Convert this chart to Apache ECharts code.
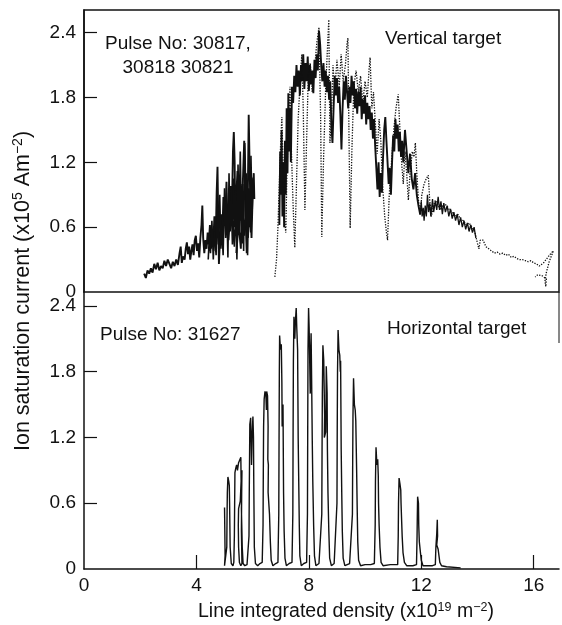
<!DOCTYPE html>
<html>
<head>
<meta charset="utf-8">
<script src="https://cdn.jsdelivr.net/npm/echarts@6/dist/echarts.min.js"></script>
<style>
  html, body { margin: 0; padding: 0; background: #fff; }
  #chart { width: 562px; height: 625px; }
</style>
</head>
<body>
<div id="chart"></div>
<script>
// Axis ticks (line integrated density, ion saturation current)
const xTickValues = [0, 4, 8, 12, 16];
const yTickValues = [0, 0.6, 1.2, 1.8, 2.4];

// Vertical target, pulse 30817 (solid trace, low density)
const pulse30817 = [
  [2.14,0.17],[2.2,0.13],[2.26,0.2],[2.32,0.17],[2.38,0.22],[2.44,0.18],[2.5,0.26],[2.56,0.21],
  [2.62,0.27],[2.68,0.2],[2.74,0.24],[2.8,0.22],[2.86,0.29],[2.92,0.24],[2.98,0.3],[3.04,0.26],
  [3.1,0.22],[3.16,0.28],[3.22,0.24],[3.28,0.3],[3.34,0.25],[3.4,0.36],[3.44,0.42],[3.48,0.27],
  [3.52,0.33],[3.58,0.3],[3.62,0.4],[3.66,0.46],[3.7,0.35],[3.74,0.42],[3.78,0.3],[3.82,0.38],
  [3.86,0.44],[3.9,0.34],[3.94,0.48],[3.98,0.52],[4.02,0.38],[4.06,0.45],[4.1,0.32],[4.14,0.5],
  [4.18,0.62],[4.21,0.8],[4.24,0.5],[4.28,0.36],[4.32,0.48],[4.36,0.4],[4.4,0.55],[4.44,0.44],
  [4.48,0.62],[4.52,0.4],[4.56,0.58],[4.6,0.46],[4.64,0.7],[4.68,0.38],[4.72,0.92],[4.75,1.16],
  [4.78,0.6],[4.8,0.26],[4.84,0.5],[4.88,0.72],[4.92,0.52],[4.96,0.88],[5.0,0.62],[5.04,0.8],
  [5.07,1.02],[5.1,0.7],[5.14,0.48],[5.18,0.64],[5.22,0.98],[5.26,0.72],[5.3,1.3],[5.33,1.48],
  [5.36,1.2],[5.38,0.68],[5.42,0.9],[5.46,1.12],[5.5,0.78],[5.46,0.5],[5.42,0.36],[5.48,0.62],
  [5.54,0.52],[5.58,0.4],[5.62,0.8],[5.66,1.08],[5.7,1.4],[5.73,1.2],[5.76,0.6],[5.79,0.36],
  [5.82,0.7],[5.86,1.64],[5.89,1.2],[5.92,0.8],[5.96,0.5],[6.0,0.9],[6.04,1.1],[6.06,0.86]
];

// Vertical target, pulse 30818 (solid trace overlapping the same range)
const pulse30818 = [
  [4.42,0.3],[4.46,0.52],[4.5,0.36],[4.55,0.66],[4.6,0.3],[4.64,0.56],[4.7,0.34],[4.74,0.78],
  [4.78,0.44],[4.83,0.9],[4.87,0.4],[4.9,0.62],[4.95,0.34],[5.0,0.96],[5.04,0.5],[5.08,0.78],
  [5.12,0.32],[5.16,1.1],[5.2,0.56],[5.24,0.86],[5.28,0.44],[5.32,1.05],[5.36,0.6],[5.4,0.94],
  [5.44,0.3],[5.48,1.18],[5.52,0.7],[5.56,1.3],[5.6,0.66],[5.64,1.0],[5.68,0.38],[5.72,1.38],
  [5.75,0.9],[5.78,1.1],[5.82,0.34],[5.86,0.96],[5.9,0.6],[5.94,1.26],[5.98,0.72],[6.02,1.06],
  [5.97,0.9],[5.93,0.55],[5.88,0.8],[5.84,0.5],[5.8,0.95],[5.76,0.7],[5.71,0.52],[5.67,0.85],
  [5.63,0.45],[5.58,0.9],[5.53,0.55],[5.49,0.75],[5.45,0.5],[5.4,0.7],[5.35,0.42],[5.3,0.66]
];

// Vertical target, pulse 30821 (dotted trace, high density)
const pulse30821 = [
  [6.79,0.14],[6.85,0.3],[6.9,0.6],[6.95,1.0],[7.0,1.4],[7.04,1.62],[7.08,1.2],[7.12,0.7],
  [7.18,0.55],[7.22,1.1],[7.28,1.6],[7.33,1.9],[7.38,1.3],[7.44,0.8],[7.5,0.41],[7.56,1.0],
  [7.62,1.6],[7.7,2.0],[7.75,2.2],[7.8,1.7],[7.86,0.76],[7.92,1.4],[7.98,2.0],[8.05,2.12],
  [8.12,1.85],[8.2,2.05],[8.28,2.3],[8.36,2.45],[8.42,1.6],[8.46,0.51],[8.52,1.2],[8.6,1.9],
  [8.67,2.3],[8.71,2.52],[8.75,1.38],[8.8,1.6],[8.86,2.1],[8.92,1.85],[9.0,2.15],[9.08,1.9],
  [9.15,2.2],[9.22,1.95],[9.3,2.1],[9.36,2.3],[9.39,2.35],[9.43,1.4],[9.47,0.59],[9.53,1.3],
  [9.6,1.9],[9.68,2.05],[9.76,1.85],[9.84,2.0],[9.92,1.75],[10.0,1.95],[10.08,1.8],[10.14,2.05],
  [10.18,2.17],[10.24,1.7],[10.3,1.85],[10.38,1.5],[10.43,1.28],[10.5,1.6],[10.56,1.4],[10.62,1.0],
  [10.7,0.7],[10.76,0.55],[10.8,0.48],[10.86,0.9],[10.94,1.2],[11.02,1.5],[11.1,1.7],[11.18,1.83],
  [11.24,1.5],[11.3,1.2],[11.36,1.0],[11.42,1.3],[11.48,1.1],[11.54,0.85],[11.6,1.1],[11.68,1.3],
  [11.74,1.25],[11.79,1.38],[11.84,1.1],[11.9,0.85],[11.96,0.71],[12.02,0.9],[12.1,1.0],[12.18,1.05],
  [12.25,1.08],[12.3,0.85],[12.36,0.7],[12.42,0.78],[12.5,0.85],[12.6,0.8],[12.7,0.76],[12.8,0.82],
  [12.9,0.8],[13.0,0.76],[13.1,0.74],[13.2,0.7],[13.3,0.72],[13.4,0.67],[13.5,0.66],[13.6,0.62],
  [13.7,0.64],[13.8,0.6],[13.9,0.56],[14.0,0.45],[14.05,0.4],[14.1,0.48],[14.2,0.48],[14.3,0.42],
  [14.4,0.4],[14.5,0.38],[14.6,0.36],[14.7,0.37],[14.8,0.35],[14.9,0.36],[15.0,0.34],[15.1,0.35],
  [15.2,0.32],[15.3,0.33],[15.4,0.31],[15.5,0.3],[15.6,0.3],[15.7,0.29],[15.8,0.28],[15.9,0.29],
  [16.0,0.27],[16.1,0.26],[16.2,0.24],[16.25,0.23],[16.35,0.27],[16.5,0.32],[16.62,0.36],[16.7,0.38],
  [16.55,0.28],[16.45,0.18],[16.4,0.1],[16.43,0.05],[16.5,0.06],[16.45,0.12],[16.3,0.15],[16.15,0.16],[16.05,0.14]
];

// Vertical target, dense solid band of the high density phase
const pulseBand = [
  [6.95,0.62],[6.98,1.3],[7.0,0.9],[7.03,1.5],[7.06,0.7],[7.09,1.2],[7.12,0.6],[7.15,1.4],
  [7.18,0.9],[7.21,1.7],[7.24,1.1],[7.27,1.84],[7.3,1.3],[7.33,1.7],[7.36,1.2],[7.4,1.9],
  [7.44,1.75],[7.48,2.0],[7.52,1.85],[7.56,2.1],[7.6,1.9],[7.64,2.05],[7.68,1.82],[7.72,2.1],
  [7.76,1.95],[7.8,2.2],[7.84,1.88],[7.88,2.12],[7.92,1.95],[7.96,2.18],[8.0,1.86],[8.04,2.1],
  [8.08,1.92],[8.12,2.05],[8.16,1.84],[8.2,2.15],[8.24,1.98],[8.28,2.2],[8.32,2.05],[8.36,2.42],
  [8.4,2.3],[8.44,2.1],[8.48,1.95],[8.52,2.12],[8.56,1.9],[8.6,2.05],[8.64,1.85],[8.68,2.0],
  [8.72,1.78],[8.76,1.95],[8.8,1.55],[8.84,1.38],[8.88,1.7],[8.92,2.0],[8.96,1.82],[9.0,1.98],
  [9.04,1.75],[9.08,1.9],[9.12,1.65],[9.16,1.32],[9.2,1.7],[9.24,1.95],[9.28,1.78],[9.32,2.0],
  [9.36,1.85],[9.4,1.7],[9.44,1.9],[9.48,1.75],[9.52,2.0],[9.56,1.82],[9.6,1.95],[9.64,1.7],
  [9.68,1.88],[9.72,1.65],[9.76,1.85],[9.8,1.72],[9.84,1.9],[9.88,1.6],[9.92,1.78],[9.96,1.65],
  [10.0,1.82],[10.04,1.55],[10.08,1.75],[10.12,1.6],[10.16,1.72],[10.2,1.5],[10.24,1.66],[10.28,1.42],
  [10.32,1.6],[10.36,1.35],[10.4,1.15],[10.44,0.95],[10.48,1.2],[10.52,0.88],[10.56,1.1],[10.6,0.92],
  [10.64,1.25],[10.68,1.5],[10.72,1.62],[10.76,1.4],[10.8,1.2],[10.84,1.0],[10.88,1.15],[10.92,0.9],
  [10.96,1.2],[11.0,1.45],[11.04,1.3],[11.08,1.6],[11.12,1.42],[11.16,1.55],[11.2,1.3],[11.24,1.48],
  [11.28,1.25],[11.32,1.4],[11.36,1.2],[11.42,1.5],[11.48,1.3],[11.54,1.1],[11.6,1.28],[11.66,1.05],
  [11.72,0.95],[11.78,1.1],[11.84,0.9],[11.9,0.8],[11.96,0.72]
];

// Vertical target, noisy decay after the band (solid, thinner)
const pulseDecay = [
  [11.96,0.72],[12.0,0.84],[12.03,0.7],[12.07,0.78],[12.1,0.66],[12.14,0.8],[12.18,0.7],[12.22,0.9],
  [12.26,0.74],[12.3,0.82],[12.34,0.7],[12.4,0.86],[12.44,0.74],[12.5,0.84],[12.55,0.76],[12.6,0.88],
  [12.65,0.76],[12.7,0.84],[12.75,0.72],[12.8,0.82],[12.86,0.74],[12.92,0.8],[12.98,0.7],[13.04,0.77],
  [13.1,0.68],[13.16,0.74],[13.22,0.66],[13.28,0.72],[13.34,0.62],[13.4,0.69],[13.46,0.6],[13.52,0.66],
  [13.58,0.58],[13.64,0.64],[13.7,0.56],[13.76,0.62],[13.82,0.55],[13.88,0.6],[13.94,0.5]
];

// Horizontal target, pulse 31627 (density steps with current bursts)
const pulse31627 = [
  [5.0,0.56],[5.01,0.35],[5.02,0.12],[5.0,0.03],[5.06,0.02],[5.08,0.2],[5.09,0.5],[5.1,0.7],
  [5.12,0.84],[5.15,0.8],[5.17,0.76],[5.18,0.6],[5.19,0.4],[5.2,0.2],[5.24,0.05],[5.3,0.03],
  [5.33,0.06],[5.35,0.3],[5.36,0.6],[5.37,0.88],[5.4,0.92],[5.43,0.95],[5.46,0.9],[5.5,0.97],
  [5.55,0.98],[5.58,1.02],[5.59,0.8],[5.56,0.62],[5.5,0.55],[5.49,0.4],[5.5,0.2],[5.53,0.06],
  [5.58,0.03],[5.62,0.05],[5.6,0.35],[5.61,0.7],[5.62,0.9],[5.6,0.55],[5.63,0.2],[5.66,0.05],
  [5.72,0.03],[5.8,0.04],
  [5.84,0.05],[5.87,0.3],[5.88,0.7],[5.89,1.0],[5.9,1.32],[5.93,1.38],[5.95,1.1],[5.96,0.95],
  [5.98,1.2],[6.01,1.39],[6.03,1.2],[6.04,0.8],[6.05,0.5],[6.06,0.2],[6.1,0.05],[6.18,0.03],[6.26,0.05],
  [6.34,0.06],[6.37,0.4],[6.38,0.9],[6.39,1.3],[6.41,1.55],[6.44,1.62],[6.47,1.6],[6.49,1.45],
  [6.5,1.62],[6.53,1.58],[6.55,1.3],[6.54,1.0],[6.56,0.95],[6.55,0.7],[6.6,0.5],[6.63,0.25],
  [6.66,0.08],[6.72,0.03],[6.82,0.05],
  [6.9,0.06],[6.93,0.5],[6.94,1.2],[6.95,1.8],[6.96,2.13],[6.99,2.0],[7.02,2.05],[7.04,1.7],
  [7.05,1.3],[7.08,1.5],[7.09,1.1],[7.1,0.7],[7.12,0.35],[7.15,0.1],[7.2,0.03],[7.3,0.05],
  [7.4,0.06],[7.43,0.5],[7.44,1.3],[7.45,1.9],[7.47,2.3],[7.5,2.1],[7.52,2.25],[7.55,2.38],
  [7.57,2.2],[7.6,2.0],[7.61,1.6],[7.62,1.2],[7.64,0.8],[7.66,0.4],[7.68,0.12],[7.73,0.03],[7.82,0.05],
  [7.92,0.06],[7.95,0.5],[7.96,1.3],[7.97,2.0],[7.99,2.38],[8.01,2.2],[8.03,1.9],[8.05,1.6],
  [8.06,1.9],[8.08,2.15],[8.1,1.7],[8.12,1.2],[8.14,0.8],[8.17,0.4],[8.2,0.12],[8.25,0.03],[8.36,0.05],
  [8.43,0.06],[8.46,0.5],[8.47,1.1],[8.48,1.6],[8.5,2.04],[8.53,1.9],[8.56,1.4],[8.55,1.2],
  [8.6,1.25],[8.61,1.5],[8.62,1.85],[8.65,1.6],[8.66,1.1],[8.68,0.7],[8.71,0.35],[8.74,0.1],
  [8.8,0.03],[8.9,0.05],
  [8.97,0.06],[9.0,0.6],[9.01,1.3],[9.02,1.8],[9.04,2.18],[9.07,2.0],[9.1,1.95],[9.12,1.8],
  [9.13,1.9],[9.14,1.5],[9.15,1.1],[9.17,0.7],[9.19,0.35],[9.22,0.1],[9.28,0.03],[9.45,0.05],
  [9.52,0.06],[9.55,0.5],[9.56,1.0],[9.57,1.4],[9.59,1.74],[9.62,1.5],[9.65,1.45],[9.67,1.35],
  [9.68,1.2],[9.7,0.9],[9.72,0.55],[9.74,0.25],[9.77,0.08],[9.84,0.03],[10.0,0.04],[10.2,0.04],
  [10.33,0.05],[10.36,0.4],[10.37,0.8],[10.39,1.11],[10.42,0.95],[10.45,1.0],[10.47,0.85],[10.48,0.6],
  [10.5,0.4],[10.53,0.2],[10.57,0.06],[10.64,0.03],[10.9,0.04],
  [11.16,0.04],[11.18,0.3],[11.19,0.6],[11.21,0.83],[11.24,0.78],[11.27,0.72],[11.28,0.6],[11.3,0.45],
  [11.32,0.3],[11.35,0.15],[11.4,0.06],[11.48,0.03],[11.7,0.03],
  [11.83,0.04],[11.85,0.3],[11.86,0.5],[11.87,0.66],[11.9,0.6],[11.91,0.4],[11.93,0.25],[11.97,0.15],
  [12.0,0.08],[12.06,0.03],[12.4,0.03],
  [12.5,0.04],[12.52,0.2],[12.55,0.32],[12.57,0.45],[12.58,0.3],[12.55,0.22],[12.6,0.18],[12.63,0.12],
  [12.66,0.06],[12.72,0.03],[12.9,0.02],[13.4,0.01]
];

const FONT = '"Liberation Sans", Arial, Helvetica, sans-serif';
const INK = '#111';

function yAxisFor(gridIndex, maxVal) {
  return {
    type: 'value', gridIndex, min: 0, max: maxVal,
    axisLine: { show: true, lineStyle: { color: INK, width: 1.5 } },
    axisTick: { show: true, inside: true, length: 13, lineStyle: { color: INK, width: 1.2 },
      customValues: yTickValues.slice(1) },
    axisLabel: { show: true, fontFamily: FONT, fontSize: 19, color: INK, margin: 8,
      customValues: yTickValues,
      formatter: v => (v === 0 ? '0' : v.toFixed(1)) },
    splitLine: { show: false }
  };
}

function trace(data, xi, width, type) {
  return {
    type: 'line', xAxisIndex: xi, yAxisIndex: xi, data,
    showSymbol: false, symbol: 'none', smooth: false, animation: false,
    lineStyle: { color: INK, width, type: type || 'solid' },
    z: 3
  };
}

const supStyle = (size) => ({ fontFamily: FONT, fontSize: size, fill: INK, verticalAlign: 'top' });

const chart = echarts.init(document.getElementById('chart'), null, { renderer: 'canvas' });
chart.setOption({
  backgroundColor: '#fff',
  animation: false,
  grid: [
    { left: 84, right: 3, top: 10, height: 282, show: true, borderColor: INK, borderWidth: 1.5, backgroundColor: 'transparent' },
    { left: 84, right: 3, top: 292, height: 277 }
  ],
  xAxis: [
    { type: 'value', gridIndex: 0, min: 0, max: 16.9,
      axisLine: { show: false }, axisTick: { show: false }, axisLabel: { show: false }, splitLine: { show: false } },
    { type: 'value', gridIndex: 1, min: 0, max: 16.9,
      axisLine: { show: true, lineStyle: { color: INK, width: 1.5 } },
      axisTick: { show: true, inside: true, length: 14, lineStyle: { color: INK, width: 1.2 },
        customValues: xTickValues.slice(1) },
      axisLabel: { show: true, fontFamily: FONT, fontSize: 19, color: INK, margin: 7,
        customValues: xTickValues },
      splitLine: { show: false } }
  ],
  yAxis: [ yAxisFor(0, 2.61), yAxisFor(1, 2.527) ],
  series: [
    trace(pulse30817, 0, 1.9),
    trace(pulse30818, 0, 1.6),
    trace(pulseBand, 0, 1.9),
    trace(pulseDecay, 0, 1.3),
    trace(pulse30821, 0, 1.3, [1.3, 1.4]),
    trace(pulse31627, 1, 1.4)
  ],
  graphic: [
    { type: 'line', shape: { x1: 559, y1: 292, x2: 559, y2: 343 }, style: { stroke: INK, lineWidth: 1 } },
    { type: 'text', x: 178, y: 44, style: { text: 'Pulse No: 30817,', font: '19px ' + FONT, fill: INK, align: 'center', verticalAlign: 'middle' } },
    { type: 'text', x: 178, y: 68, style: { text: '30818 30821', font: '19px ' + FONT, fill: INK, align: 'center', verticalAlign: 'middle' } },
    { type: 'text', x: 385, y: 39, style: { text: 'Vertical target', font: '19px ' + FONT, fill: INK, align: 'left', verticalAlign: 'middle' } },
    { type: 'text', x: 100, y: 335, style: { text: 'Pulse No: 31627', font: '19px ' + FONT, fill: INK, align: 'left', verticalAlign: 'middle' } },
    { type: 'text', x: 387, y: 329, style: { text: 'Horizontal target', font: '19px ' + FONT, fill: INK, align: 'left', verticalAlign: 'middle' } },
    { type: 'text', x: 198, y: 612,
      style: { text: '{a|Line integrated density (x10}{s|19}{a| m}{s|\u22122}{a|)}', align: 'left', verticalAlign: 'middle',
        rich: { a: { fontFamily: FONT, fontSize: 19.5, fill: INK, lineHeight: 22 }, s: supStyle(12.5) } } },
    { type: 'text', x: 23, y: 291, rotation: Math.PI / 2,
      style: { text: '{a|Ion saturation current (x10}{s|5}{a| Am}{s|\u22122}{a|)}', align: 'center', verticalAlign: 'middle',
        rich: { a: { fontFamily: FONT, fontSize: 21.5, fill: INK, lineHeight: 24 }, s: supStyle(14) } } }
  ]
});
</script>
</body>
</html>
